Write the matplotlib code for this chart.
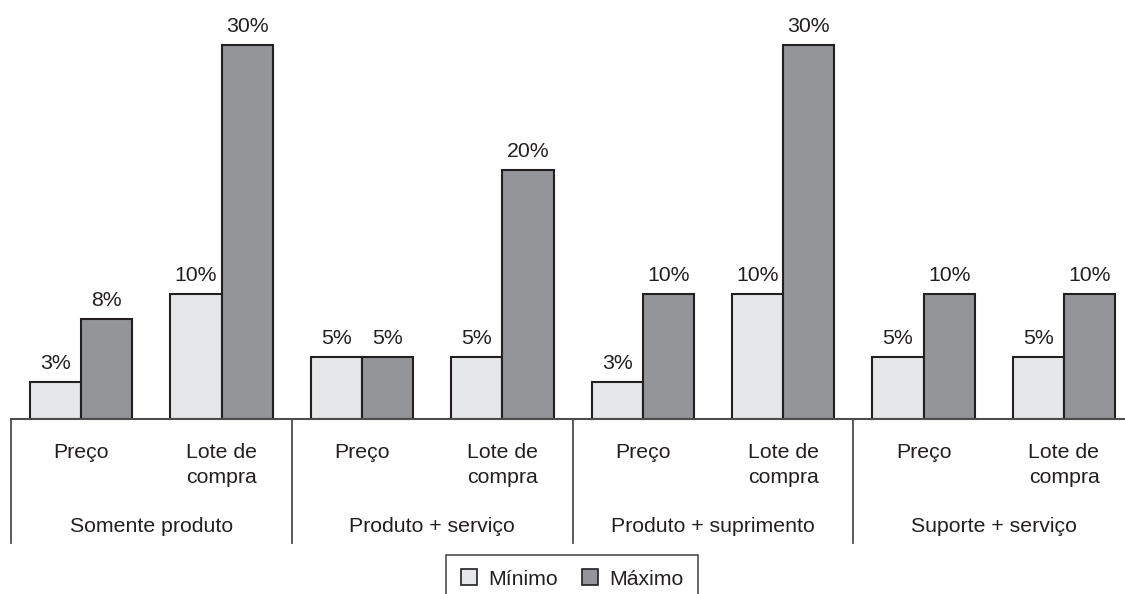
import matplotlib
matplotlib.use("Agg")
import matplotlib.pyplot as plt
from matplotlib.patches import Patch
from matplotlib.transforms import blended_transform_factory

plt.rcParams['font.family'] = ['Liberation Sans', 'DejaVu Sans']

groups = ["Somente produto", "Produto + serviço", "Produto + suprimento", "Suporte + serviço"]
subcats = ["Preço", "Lote de\ncompra"]
minimo = [3, 10, 5, 5, 3, 10, 5, 5]
maximo = [8, 30, 5, 20, 10, 30, 10, 10]
series_names = ["Mínimo", "Máximo"]

light = "#e6e7e8"
dark = "#939598"
edge = "#231f20"
linec = "#4d4d4d"
fs = 15.3

W, H = 1125, 594
fig = plt.figure(figsize=(W / 100, H / 100), dpi=100)
# axes: baseline at y=419 px, top at 0
ax = fig.add_axes([0, 1 - 419 / H, 1, 419 / H])
n = len(minimo)
xs = list(range(n))
bw = 0.365
ax.bar([x - bw / 2 for x in xs], minimo, width=bw, color=light, edgecolor=edge, linewidth=1.5, zorder=3)
ax.bar([x + bw / 2 for x in xs], maximo, width=bw, color=dark, edgecolor=edge, linewidth=1.5, zorder=3)
ax.set_xlim(-0.5 - 11 / 140.4, 7 + (W - 1064) / 140.4)
ax.set_ylim(0, 419 / 12.47)
ax.axis("off")

for x, v in zip(xs, minimo):
    ax.annotate(f"{v}%", (x - bw / 2, v), xytext=(0, 6.5), textcoords="offset points",
                ha="center", va="bottom", fontsize=fs, color="#231f20")
for x, v in zip(xs, maximo):
    ax.annotate(f"{v}%", (x + bw / 2, v), xytext=(0, 6.5), textcoords="offset points",
                ha="center", va="bottom", fontsize=fs, color="#231f20")

tr = blended_transform_factory(ax.transData, fig.transFigure)
# baseline
ax.plot([-0.5, ax.get_xlim()[1]], [0, 0], color=linec, lw=1.5, clip_on=False, zorder=4)
# separators
for k in range(len(groups)):
    sx = 2 * k - 0.5
    fig.add_artist(plt.Line2D([sx, sx], [1 - 419 / H, 1 - 543 / H], transform=tr, color=linec, lw=1.3))

for i, x in enumerate(xs):
    lab = subcats[i % 2]
    fig.text(x, 1 - 443 / H, lab, transform=tr, ha="center", va="top", fontsize=fs,
             color="#231f20", linespacing=1.38)
for k, g in enumerate(groups):
    fig.text(2 * k + 0.5, 1 - 527 / H, g, transform=tr, ha="center", va="center",
             fontsize=fs, color="#231f20")

handles = [Patch(facecolor=light, edgecolor=edge, linewidth=1.2),
           Patch(facecolor=dark, edgecolor=edge, linewidth=1.2)]
leg = fig.legend(handles, series_names, loc="upper center", bbox_to_anchor=(572 / W, 1 - 555 / H),
                 ncol=2, frameon=True, fancybox=False, fontsize=fs, handlelength=0.78,
                 handleheight=0.78, handletextpad=0.5, columnspacing=1.15, borderpad=0.68,
                 borderaxespad=0)
leg.get_frame().set_edgecolor(edge)
leg.get_frame().set_linewidth(1.2)
for t in leg.get_texts():
    t.set_color("#231f20")

fig.savefig("out.png", dpi=100)
